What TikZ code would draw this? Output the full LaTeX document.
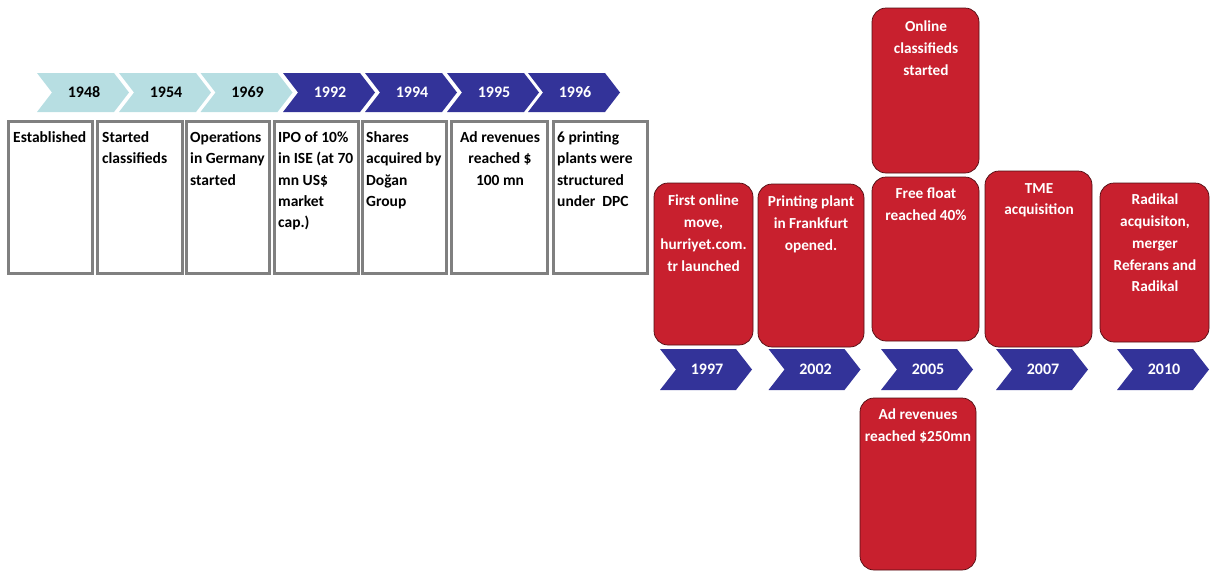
\documentclass[tikz,border=0pt]{standalone}
\usepackage{fontspec}
\setmainfont{Carlito}
\definecolor{teal}{RGB}{183,222,226}
\definecolor{navy}{RGB}{51,51,153}
\definecolor{cred}{RGB}{200,32,46}
\definecolor{boxgray}{RGB}{128,128,128}
\tikzset{
  gbox/.style={draw=boxgray, line width=3pt, fill=white, inner sep=0pt, outer sep=0pt},
  rbox/.style={fill=cred, draw=black!60!cred, line width=0.7pt, rounded corners=14pt, inner sep=0pt, outer sep=0pt},
  btxt/.style={font=\bfseries\fontsize{15.5}{21.3}\selectfont, align=left, anchor=north west, inner sep=0pt},
  ctxt/.style={font=\bfseries\fontsize{15.5}{21.3}\selectfont, align=center, anchor=north, inner sep=0pt},
  wtxt/.style={text=white, font=\bfseries\fontsize{15.3}{21.7}\selectfont, align=center, anchor=north, inner sep=0pt},
  yr/.style={font=\bfseries\fontsize{16}{18}\selectfont, inner sep=0pt}
}
\newcommand\chev[8]{% name, x0, ytop, ybot, depth, fill, textcol, label
  \fill[#6] (#2,#3) -- ({#2+92-#5},#3) -- ({#2+92},{(#3+#4)/2}) -- ({#2+92-#5},#4) -- (#2,#4) -- ({#2+#5},{(#3+#4)/2}) -- cycle;
  \node[yr,text=#7] (#1) at ({#2+47},{(#3+#4)/2}) {#8};}
\newcommand\gb[5]{% name, x1, y1, x2, y2
  \node[gbox, minimum width={#4-#2}, minimum height={#5-#3}] (#1) at ({(#2+#4)/2},{(#3+#5)/2}) {};}
\newcommand\rb[5]{% name, x1, y1, x2, y2
  \node[rbox, minimum width={#4-#2}, minimum height={#5-#3}] (#1) at ({(#2+#4)/2},{(#3+#5)/2}) {};}
\begin{document}
\begin{tikzpicture}[x=1pt,y=-1pt]
\useasboundingbox (0,0) rectangle (1210,571);

% top chevrons
\chev{c1948}{37}{73}{112}{15}{teal}{black}{1948}
\chev{c1954}{119}{73}{112}{15}{teal}{black}{1954}
\chev{c1969}{200.5}{73}{112}{15}{teal}{black}{1969}
\chev{c1992}{283}{73}{112}{15}{navy}{white}{1992}
\chev{c1994}{365}{73}{112}{15}{navy}{white}{1994}
\chev{c1995}{447}{73}{112}{15}{navy}{white}{1995}
\chev{c1996}{528}{73}{112}{15}{navy}{white}{1996}

% top boxes
\gb{b1}{8.5}{121.5}{92}{273.5}
\gb{b2}{97.5}{121.5}{182}{273.5}
\gb{b3}{186}{121.5}{269.5}{273.5}
\gb{b4}{274}{121.5}{358}{273.5}
\gb{b5}{362}{121.5}{446}{273.5}
\gb{b6}{451}{121.5}{547}{273.5}
\gb{b7}{553}{121.5}{647}{273.5}

\node[btxt] (t1) at (13,131.5) {Established};
\node[btxt] (t2) at (102,131.5) {Started\\classifieds};
\node[btxt] (t3) at (190,131.5) {Operations\\in Germany\\started};
\node[btxt] (t4) at (278,131.5) {IPO of 10\%\\in ISE (at 70\\mn US\$\\market\\cap.)};
\node[btxt] (t5) at (366,131.5) {Shares\\acquired by\\Doğan\\Group};
\node[ctxt] (t6) at (500,131.5) {Ad revenues\\reached \$\\100 mn};
\node[btxt] (t7) at (557,131.5) {6 printing\\plants were\\structured\\under~ DPC};

% bottom chevrons
\chev{c1997}{660}{349}{390}{16}{navy}{white}{1997}
\chev{c2002}{768.5}{349}{390}{16}{navy}{white}{2002}
\chev{c2005}{881}{349}{390}{16}{navy}{white}{2005}
\chev{c2007}{996}{349}{390}{16}{navy}{white}{2007}
\chev{c2010}{1117}{349}{390}{16}{navy}{white}{2010}

% red boxes
\rb{r1997}{654}{183}{753}{345}
\rb{r2002}{758}{184}{864}{347}
\rb{r2005a}{872}{8}{979}{173}
\rb{r2005b}{872}{177}{979}{341}
\rb{r2007}{985}{171}{1092}{347}
\rb{r2010}{1100}{183}{1209}{342}
\rb{r2005c}{860}{398}{976}{570}

\node[wtxt] (s1997) at (703.5,195) {First online\\move,\\hurriyet.com.\\tr launched};
\node[wtxt] (s2002) at (811,196) {Printing plant\\in Frankfurt\\opened.};
\node[wtxt] (s2005a) at (926,21) {Online\\classifieds\\started};
\node[wtxt] (s2005b) at (926,188) {Free float\\reached 40\%};
\node[wtxt] (s2007) at (1039,183) {TME\\acquisition};
\node[wtxt] (s2010) at (1155,194) {Radikal\\acquisiton,\\merger\hspace*{16pt}\\Referans and\\Radikal};
\node[wtxt] (s2005c) at (918,409) {Ad revenues\\reached \$250mn};
\end{tikzpicture}
\end{document}
